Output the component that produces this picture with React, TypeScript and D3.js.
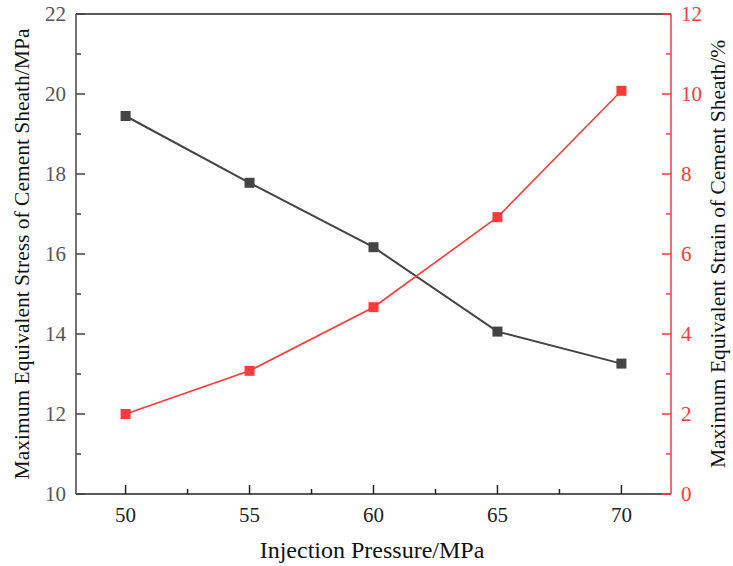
import React, { useEffect, useRef } from 'react';
import * as d3 from 'd3';

const pressures = [50, 55, 60, 65, 70];
const stressValues = [19.45, 17.78, 16.17, 14.06, 13.26];
const strainValues = [2.0, 3.08, 4.67, 6.92, 10.08];
const xTicks = [50, 55, 60, 65, 70];
const leftTicks = [10, 12, 14, 16, 18, 20, 22];
const rightTicks = [0, 2, 4, 6, 8, 10, 12];

const W = 733;
const H = 566;
const margin = { left: 76, right: 62, top: 14, bottom: 72 };
const font = "'Times New Roman', 'Liberation Serif', serif";
const black = '#444';
const red = '#ff3a3a';

const App: React.FC = () => {
  const ref = useRef<SVGSVGElement>(null);

  useEffect(() => {
    draw();
  }, []);

  function draw() {
    const svg = d3.select(ref.current);
    svg.selectAll('*').remove();

    const x0 = margin.left;
    const x1 = W - margin.right;
    const y0 = H - margin.bottom;
    const y1 = margin.top;

    const x = d3.scaleLinear().domain([48, 72]).range([x0, x1]);
    const yL = d3.scaleLinear().domain([10, 22]).range([y0, y1]);
    const yR = d3.scaleLinear().domain([0, 12]).range([y0, y1]);

    const g = svg.append('g');
    const txt = (sel: any) => sel.attr('font-family', font);

    // frame
    g.append('line').attr('x1', x0).attr('x2', x1).attr('y1', y1).attr('y2', y1)
      .attr('stroke', '#222').attr('stroke-width', 1.5);
    g.append('line').attr('x1', x0).attr('x2', x1).attr('y1', y0).attr('y2', y0)
      .attr('stroke', '#222').attr('stroke-width', 1.5);
    g.append('line').attr('x1', x0).attr('x2', x0).attr('y1', y1).attr('y2', y0)
      .attr('stroke', black).attr('stroke-width', 1.5);
    g.append('line').attr('x1', x1).attr('x2', x1).attr('y1', y1).attr('y2', y0)
      .attr('stroke', red).attr('stroke-width', 1.5);

    // x ticks
    xTicks.forEach((t) => {
      g.append('line').attr('x1', x(t)).attr('x2', x(t)).attr('y1', y0).attr('y2', y0 - 9)
        .attr('stroke', '#222').attr('stroke-width', 1.5);
      g.append('text').call(txt).attr('x', x(t)).attr('y', y0 + 28).attr('text-anchor', 'middle')
        .attr('font-size', 21).attr('fill', '#222').text(t);
    });
    xTicks.slice(0, -1).forEach((t) => {
      const m = t + 2.5;
      g.append('line').attr('x1', x(m)).attr('x2', x(m)).attr('y1', y0).attr('y2', y0 - 5)
        .attr('stroke', '#222').attr('stroke-width', 1.5);
    });

    // left ticks
    leftTicks.forEach((t, i) => {
      g.append('line').attr('x1', x0).attr('x2', x0 + 9).attr('y1', yL(t)).attr('y2', yL(t))
        .attr('stroke', black).attr('stroke-width', 1.5);
      g.append('text').call(txt).attr('x', x0 - 10).attr('y', yL(t) + 7).attr('text-anchor', 'end')
        .attr('font-size', 21).attr('fill', '#555').text(t);
      if (i < leftTicks.length - 1) {
        const m = t + 1;
        g.append('line').attr('x1', x0).attr('x2', x0 + 5).attr('y1', yL(m)).attr('y2', yL(m))
          .attr('stroke', black).attr('stroke-width', 1.5);
      }
    });

    // right ticks
    rightTicks.forEach((t, i) => {
      g.append('line').attr('x1', x1).attr('x2', x1 - 9).attr('y1', yR(t)).attr('y2', yR(t))
        .attr('stroke', red).attr('stroke-width', 1.5);
      g.append('text').call(txt).attr('x', x1 + 10).attr('y', yR(t) + 7).attr('text-anchor', 'start')
        .attr('font-size', 21).attr('fill', red).text(t);
      if (i < rightTicks.length - 1) {
        const m = t + 1;
        g.append('line').attr('x1', x1).attr('x2', x1 - 5).attr('y1', yR(m)).attr('y2', yR(m))
          .attr('stroke', red).attr('stroke-width', 1.5);
      }
    });

    // axis titles
    g.append('text').call(txt).attr('x', 372).attr('y', 558).attr('text-anchor', 'middle')
      .attr('font-size', 24).attr('fill', '#111')
      .text('Injection Pressure/MPa');
    g.append('text').call(txt)
      .attr('transform', `translate(29, ${(y0 + y1) / 2}) rotate(-90)`)
      .attr('text-anchor', 'middle')
      .attr('font-size', 21.5).attr('fill', '#111')
      .text('Maximum Equivalent Stress of Cement Sheath/MPa');
    g.append('text').call(txt)
      .attr('transform', `translate(725, ${(y0 + y1) / 2}) rotate(-90)`)
      .attr('text-anchor', 'middle')
      .attr('font-size', 21.5).attr('fill', '#111')
      .text('Maximum Equivalent Strain of Cement Sheath/%');

    // series
    const lineL = d3.line<number>().x((d, i) => x(pressures[i])).y((d) => yL(d));
    const lineR = d3.line<number>().x((d, i) => x(pressures[i])).y((d) => yR(d));

    g.append('path').attr('d', lineL(stressValues) as string).attr('fill', 'none')
      .attr('stroke', black).attr('stroke-width', 2);
    g.append('path').attr('d', lineR(strainValues) as string).attr('fill', 'none')
      .attr('stroke', red).attr('stroke-width', 1.6);

    const s = 10;
    g.selectAll('rect.l').data(stressValues).enter().append('rect')
      .attr('x', (d, i) => x(pressures[i]) - s / 2).attr('y', (d) => yL(d) - s / 2)
      .attr('width', s).attr('height', s).attr('fill', black);
    g.selectAll('rect.r').data(strainValues).enter().append('rect')
      .attr('x', (d, i) => x(pressures[i]) - s / 2).attr('y', (d) => yR(d) - s / 2)
      .attr('width', s).attr('height', s).attr('fill', red);
  }

  return (
    <svg
      ref={ref}
      width={W}
      height={H}
      style={{ position: 'absolute', left: 0, top: 0, display: 'block', background: '#fff' }}
    />
  );
};

export default App;
